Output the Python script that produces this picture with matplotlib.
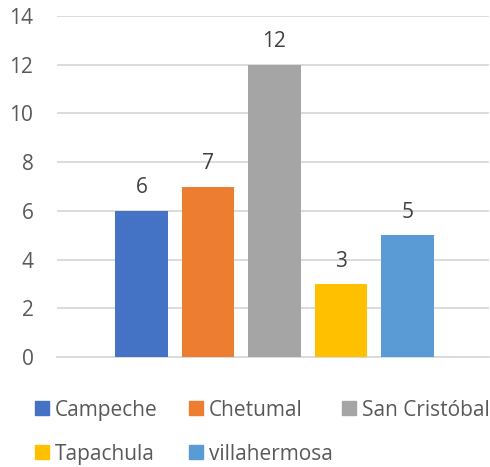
import matplotlib.pyplot as plt
from matplotlib.patches import Rectangle

plt.rcParams['font.family'] = ['Open Sans', 'DejaVu Sans']

# datos
ciudades = ['Campeche', 'Chetumal', 'San Cristóbal', 'Tapachula', 'villahermosa']
valores = [6, 7, 12, 3, 5]
colores = ['#4472C4', '#ED7D31', '#A5A5A5', '#FFC000', '#5B9BD5']
yticks = [0, 2, 4, 6, 8, 10, 12, 14]

W, H = 490, 467
fig = plt.figure(figsize=(W / 100, H / 100), dpi=100)
ax = fig.add_axes([57 / W, 1 - 357 / H, (489 - 57) / W, (357 - 16) / H])

x = list(range(len(ciudades)))
barras = ax.bar(x, valores, width=0.79, color=colores, zorder=3)

for xi, v in zip(x, valores):
    ax.annotate(str(v), (xi, v), xytext=(0, 12.5), textcoords='offset points',
                ha='center', va='baseline', fontsize=15, color='#404040')

ax.set_xlim(-1.271, 5.226)
ax.set_ylim(0, 14)
ax.set_yticks(yticks)
ax.set_xticks([])
ax.tick_params(axis='y', length=0, pad=17, labelsize=15, labelcolor='#595959')
ax.grid(axis='y', color='#D9D9D9', linewidth=1.3, zorder=0)
for lado in ['top', 'right', 'left']:
    ax.spines[lado].set_visible(False)
ax.spines['bottom'].set_color('#D9D9D9')
ax.spines['bottom'].set_linewidth(1.3)

# leyenda manual (3 columnas)
col_x = [35, 189, 342]
fila_y = [408, 452]
for i, (nombre, c) in enumerate(zip(ciudades, colores)):
    cx = col_x[i % 3]
    cy = fila_y[i // 3]
    fig.add_artist(Rectangle((cx / W, 1 - (cy + 7) / H), 14 / W, 14 / H,
                             transform=fig.transFigure, color=c))
    fig.text((cx + 20) / W, 1 - cy / H, nombre, ha='left', va='center_baseline',
             fontsize=15, color='#595959')

fig.savefig('out.png', dpi=100)
